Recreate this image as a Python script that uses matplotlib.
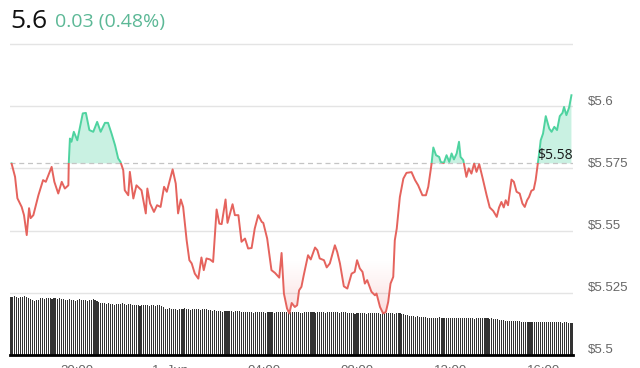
import numpy as np
import matplotlib
matplotlib.use('Agg')
import matplotlib.pyplot as plt
from matplotlib.patches import Rectangle
from matplotlib.transforms import ScaledTranslation

# minutes relative to 20:00 (31 May)
minutes = [-168, -159, -153, -142, -136, -129, -123, -119, -112, -99, -87, -80, -65, -58, -48, -39,
           -31, -22, -21, -18, -14, -8, 1, 15, 23, 32, 42, 52, 61, 72, 80, 89, 98, 106, 112, 119,
           123, 132, 136, 145, 153, 166, 177, 181, 188, 198, 206, 215, 224, 231, 246, 254, 260, 267,
           273, 282, 289, 295, 303, 312, 320, 326, 333, 342, 350, 359, 366, 372, 382, 387, 400, 406,
           415, 423, 432, 440, 449, 457, 466, 475, 479, 489, 500, 509, 520, 526, 532, 540, 546, 552,
           560, 566, 571, 577, 583, 594, 601, 612, 618, 624, 635, 642, 650, 663, 669, 676, 686, 695,
           706, 714, 720, 727, 734, 740, 746, 757, 766, 770, 779, 787, 794, 800, 806, 813, 817, 822,
           830, 839, 847, 860, 869, 877, 888, 897, 903, 911, 916, 923, 931, 935, 943, 950, 957, 963,
           969, 976, 982, 986, 993, 997, 1001, 1007, 1014, 1021, 1027, 1034, 1043, 1053, 1061, 1070,
           1079, 1085, 1091, 1097, 1102, 1108, 1117, 1123, 1130, 1138, 1145, 1151, 1157, 1162, 1168,
           1174, 1179, 1183, 1188, 1192, 1198, 1205, 1214, 1220, 1227, 1234, 1241, 1248, 1252, 1258,
           1265, 1271]
price = [5.5770, 5.5716, 5.5630, 5.5595, 5.5562, 5.5482, 5.5590, 5.5550, 5.5562, 5.5642, 5.5703,
         5.5696, 5.5756, 5.5696, 5.5649, 5.5696, 5.5669, 5.5682, 5.5770, 5.5870, 5.5857, 5.5897,
         5.5863, 5.5971, 5.5973, 5.5904, 5.5897, 5.5937, 5.5897, 5.5933, 5.5933, 5.5890, 5.5843,
         5.5790, 5.5776, 5.5743, 5.5662, 5.5642, 5.5736, 5.5629, 5.5682, 5.5662, 5.5569, 5.5669,
         5.5609, 5.5575, 5.5602, 5.5595, 5.5676, 5.5656, 5.5746, 5.5689, 5.5569, 5.5625, 5.5595,
         5.5461, 5.5381, 5.5368, 5.5327, 5.5307, 5.5392, 5.5341, 5.5388, 5.5384, 5.5374, 5.5585,
         5.5528, 5.5526, 5.5625, 5.5531, 5.5606, 5.5562, 5.5562, 5.5455, 5.5468, 5.5428, 5.5430,
         5.5508, 5.5562, 5.5535, 5.5531, 5.5468, 5.5341, 5.5330, 5.5311, 5.5410, 5.5247, 5.5187,
         5.5167, 5.5209, 5.5193, 5.5200, 5.5260, 5.5274, 5.5321, 5.5401, 5.5384, 5.5432, 5.5421,
         5.5388, 5.5381, 5.5352, 5.5368, 5.5441, 5.5414, 5.5368, 5.5276, 5.5267, 5.5327, 5.5334,
         5.5381, 5.5348, 5.5334, 5.5287, 5.5301, 5.5254, 5.5240, 5.5247, 5.5193, 5.5167, 5.5173,
         5.5213, 5.5287, 5.5314, 5.5461, 5.5508, 5.5635, 5.5709, 5.5732, 5.5735, 5.5703, 5.5682,
         5.5642, 5.5642, 5.5676, 5.5763, 5.5834, 5.5803, 5.5796, 5.5776, 5.5772, 5.5803, 5.5776,
         5.5810, 5.5786, 5.5810, 5.5857, 5.5796, 5.5783, 5.5750, 5.5716, 5.5750, 5.5729, 5.5770,
         5.5736, 5.5767, 5.5709, 5.5642, 5.5593, 5.5579, 5.5555, 5.5593, 5.5615, 5.5593, 5.5622,
         5.5602, 5.5705, 5.5696, 5.5656, 5.5649, 5.5609, 5.5595, 5.5622, 5.5635, 5.5660, 5.5665,
         5.5703, 5.5750, 5.5810, 5.5863, 5.5890, 5.5960, 5.5910, 5.5897, 5.5917, 5.5904, 5.5960,
         5.5973, 5.5997, 5.5964, 5.5995, 5.6044]

# 5-minute volume bars (arbitrary units)
volume = [58, 58, 59, 58, 57, 58, 58, 59, 58, 57, 56,
          55, 54, 55, 55,
          57, 57, 56, 57, 57, 57, 56, 57, 57, 56, 57, 56, 56,
          55, 55, 56, 55, 55, 54, 55, 56, 55, 55, 55, 54, 55, 55, 56, 55, 54,
          53, 52, 52, 52, 51, 52,
          51, 51, 50, 51, 51, 51, 52, 51, 50, 51, 51, 50,
          50, 50, 50, 49, 50, 50, 50, 50, 49, 50, 50, 49, 50, 50, 49, 48,
          46, 46, 47, 46, 46, 46, 45, 46, 46, 46, 47, 46, 46, 45, 46, 46, 46, 46, 45, 46, 46, 46,
          45, 45, 44, 45,
          44, 44, 44, 43, 44, 44, 44, 44, 44, 43, 44, 44, 44, 43, 43,
          43, 43, 43, 43, 42, 43, 43, 43, 43, 43, 42, 43, 43, 43, 43, 42, 43, 43, 43, 43, 43, 43,
          42, 43, 43, 43, 43, 43, 42, 42, 43, 43, 43, 43, 43, 43, 42, 43, 43, 43, 43, 42, 43, 43,
          43, 43, 43, 43, 42, 43, 43, 43, 42, 42,
          42, 42, 41, 42, 42, 42, 42, 42, 41, 42, 42, 42, 42, 42, 42, 41, 42, 42, 42, 42, 42, 42,
          41, 42, 42, 42, 41, 41, 40, 40,
          39, 39, 39, 38, 39, 38, 38, 38, 38,
          37, 37, 37, 37, 37, 37, 38, 37, 37, 37, 37, 37, 37, 37, 37, 37, 37, 37, 37, 37, 37, 37,
          37, 37, 36, 37, 37, 37, 37, 37, 37, 37, 36, 37, 36, 36, 36, 35, 35, 35,
          34, 34, 34, 34, 34, 34, 34, 34, 33, 33,
          33, 33, 33, 33, 33, 33, 33, 33, 33, 33, 33, 33, 33, 33, 33, 33, 33, 33, 33, 32, 33, 33,
          32, 32, 32]

prev_close = 5.577
last_label = 5.58
tick_minutes = [0, 240, 480, 720, 960, 1200]
tick_labels = ['20:00', '1. Jun', '04:00', '08:00', '12:00', '16:00']
price_ticks = [5.5, 5.525, 5.55, 5.575, 5.6]
grid_levels = [5.525, 5.55, 5.575, 5.6, 5.625]
t_start, t_end = -172, 1275
y_low, y_high = 5.5, 5.6266

green = '#4fd3a0'
red = '#e5635d'

t = np.array(minutes, dtype=float)
p = np.array(price)

fig = plt.figure(figsize=(6.4, 3.68), dpi=100)
rect = [10 / 640, 13 / 368, 563 / 640, 315 / 368]
ax_vol = fig.add_axes(rect)
ax = fig.add_axes(rect)
ax.patch.set_visible(False)

# volume bars underneath
bar_x = np.linspace(t_start + 2.5, t_end - 2.5, len(volume))
step = bar_x[1] - bar_x[0]
ax_vol.bar(bar_x, volume, width=step * 0.55, color='#333333', linewidth=0)
ax_vol.set_xlim(t_start, t_end)
ax_vol.set_ylim(0, 315)
ax_vol.set_xticks([])
ax_vol.set_yticks([])
for s in ['top', 'left', 'right']:
    ax_vol.spines[s].set_visible(False)
ax_vol.spines['bottom'].set_color('black')
ax_vol.spines['bottom'].set_linewidth(2)

# grid and reference line
for g in grid_levels:
    ax.axhline(g, color='#e4e4e4', lw=1, zorder=0)
ax.axhline(prev_close, color='#c4c4c4', lw=0.9, ls=(0, (4, 3)), zorder=1.5)

# green fill above previous close
ax.fill_between(t, p, prev_close, where=p >= prev_close, interpolate=True,
                color=green, alpha=0.3, lw=0, zorder=1)

# red gradient fill below previous close, fading near the baseline
poly = ax.fill_between(t, p, prev_close, facecolor='none', edgecolor='none')
ys = np.linspace(y_low, prev_close, 200)
alpha = np.clip((5.538 - ys) / (5.538 - 5.5), 0, 1) ** 1.1 * 0.45
grad = np.zeros((len(ys), 2, 4))
grad[..., 0] = 0.93
grad[..., 1] = 0.45
grad[..., 2] = 0.45
grad[..., 3] = alpha[:, None]
im = ax.imshow(grad, extent=[t_start, t_end, y_low, prev_close], origin='lower',
               aspect='auto', zorder=1, interpolation='bilinear')
im.set_clip_path(poly.get_paths()[0], transform=ax.transData)

# price line, coloured by side of previous close
above = Rectangle((t_start - 500, prev_close), 3000, 1, transform=ax.transData)
below = Rectangle((t_start - 500, prev_close - 1), 3000, 1, transform=ax.transData)
l_red, = ax.plot(t, p, color=red, lw=1.4, zorder=3, solid_joinstyle='round')
l_red.set_clip_path(below)
l_green, = ax.plot(t, p, color=green, lw=1.4, zorder=3, solid_joinstyle='round')
l_green.set_clip_path(above)

ax.text(t_end, last_label, '\\$5.58', ha='right', va='center', fontsize=10,
        family='Open Sans', color='#1a1a1a', zorder=4)

ax.set_xlim(t_start, t_end)
ax.set_ylim(y_low, y_high)
for s in ax.spines.values():
    s.set_visible(False)

ax.yaxis.tick_right()
ax.set_yticks(price_ticks, ['\\$' + f'{v:g}' for v in price_ticks])
ax.set_xticks(tick_minutes, tick_labels)
ax.tick_params(axis='y', length=0, pad=11, labelsize=9.5, labelcolor='#666666')
ax.tick_params(axis='x', length=0, pad=7, labelsize=9.5, labelcolor='#666666')
for lab in ax.get_yticklabels():
    lab.set_family('Liberation Sans')
    lab.set_transform(lab.get_transform() + ScaledTranslation(0, 6 / 100, fig.dpi_scale_trans))
for lab in ax.get_xticklabels():
    lab.set_family('Liberation Sans')

fig.text(10 / 640, 1 - 28 / 368, '5.6', fontsize=19, family='Open Sans',
         color='#111111', va='baseline')
fig.text(55 / 640, 1 - 27 / 368, '0.03 (0.48%)', fontsize=14, family='Open Sans',
         color='#5cb896', va='baseline')

fig.savefig('out.png', dpi=100)
